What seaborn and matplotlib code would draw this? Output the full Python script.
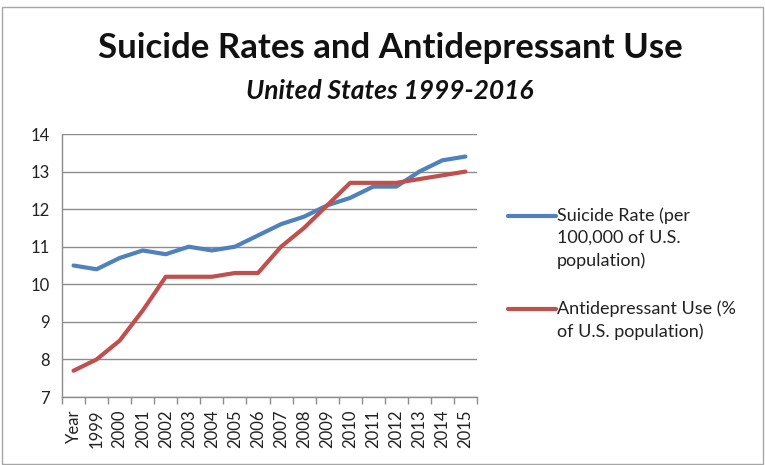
import pandas as pd
import matplotlib
matplotlib.use('Agg')
import matplotlib.pyplot as plt
from matplotlib.lines import Line2D
import seaborn as sns

# Chart data
categories = ['Year', '1999', '2000', '2001', '2002', '2003', '2004', '2005', '2006',
              '2007', '2008', '2009', '2010', '2011', '2012', '2013', '2014', '2015']
suicide_rate = [10.5, 10.4, 10.7, 10.9, 10.8, 11.0, 10.9, 11.0, 11.3,
                11.6, 11.8, 12.1, 12.3, 12.6, 12.6, 13.0, 13.3, 13.4]
antidepressant_use = [7.7, 8.0, 8.5, 9.3, 10.2, 10.2, 10.2, 10.3, 10.3,
                      11.0, 11.5, 12.1, 12.7, 12.7, 12.7, 12.8, 12.9, 13.0]
series_names = ['Suicide Rate (per\n100,000 of U.S.\npopulation)',
                'Antidepressant Use (%\nof U.S. population)']
y_ticks = [7, 8, 9, 10, 11, 12, 13, 14]

# Long format for seaborn
pos = list(range(len(categories)))
df = pd.DataFrame({
    'pos': pos * 2,
    'value': suicide_rate + antidepressant_use,
    'series': [series_names[0]] * len(pos) + [series_names[1]] * len(pos),
})

sns.set_style('white')
plt.rcParams['font.family'] = ['Lato', 'DejaVu Sans']

fig = plt.figure(figsize=(7.65, 4.65), dpi=100)
ax = fig.add_axes([62 / 765, 1 - 397 / 465, (477 - 62) / 765, (397 - 134) / 465])

colors = ['#4F81BD', '#C0504D']
palette = dict(zip(series_names, colors))
sns.lineplot(data=df, x='pos', y='value', hue='series', palette=palette,
             linewidth=3, ax=ax, legend=False)

ax.set_xlim(-0.5, len(categories) - 0.5)
ax.set_ylim(7, 14)
ax.set_yticks(y_ticks)
ax.set_yticklabels([str(t) for t in y_ticks], fontsize=12, color='#222222')
ax.yaxis.grid(True, color='#8c8c8c', linewidth=1)
ax.set_axisbelow(True)

# category labels at centers, tick marks at category boundaries
ax.set_xticks(pos)
ax.set_xticklabels(categories, rotation=90, fontsize=12, color='#222222')
ax.set_xticks([p - 0.5 for p in pos] + [len(pos) - 0.5], minor=True)
ax.tick_params(axis='x', which='major', length=0, pad=9)
ax.tick_params(axis='x', which='minor', length=5, color='#8c8c8c', width=1, direction='out')
ax.tick_params(axis='y', length=5, color='#8c8c8c', width=1, direction='out', pad=4)
ax.xaxis.set_tick_params(bottom=True, which='both')

for side in ['top', 'right']:
    ax.spines[side].set_visible(False)
for side in ['left', 'bottom']:
    ax.spines[side].set_color('#8c8c8c')
    ax.spines[side].set_linewidth(1)

ax.set_xlabel('')
ax.set_ylabel('')

# legend: handle sits on the first text line, as in the Excel original
legend_tops = [216, 309]
for name, color, y in zip(series_names, colors, legend_tops):
    fy = 1 - y / 465
    fig.add_artist(Line2D([508 / 765, 556 / 765], [fy, fy], color=color,
                          linewidth=3, transform=fig.transFigure))
    fig.text(557 / 765, 1 - (y - 9) / 465, name, ha='left', va='top',
             fontsize=13, linespacing=1.5, color='#222222')

fig.text(390 / 765, 1 - 48 / 465, 'Suicide Rates and Antidepressant Use',
         ha='center', va='center', fontsize=25, fontweight='bold', color='#111111')
fig.text(390 / 765, 1 - 91 / 465, 'United States 1999-2016',
         ha='center', va='center', fontsize=19, fontweight='bold', style='italic',
         color='#111111')

# thin chart border
fig.patches.append(plt.Rectangle((0.003, 0.003), 0.994, 0.982, transform=fig.transFigure,
                                 fill=False, edgecolor='#a6a6a6', linewidth=1))

fig.savefig('out.png', dpi=100)
